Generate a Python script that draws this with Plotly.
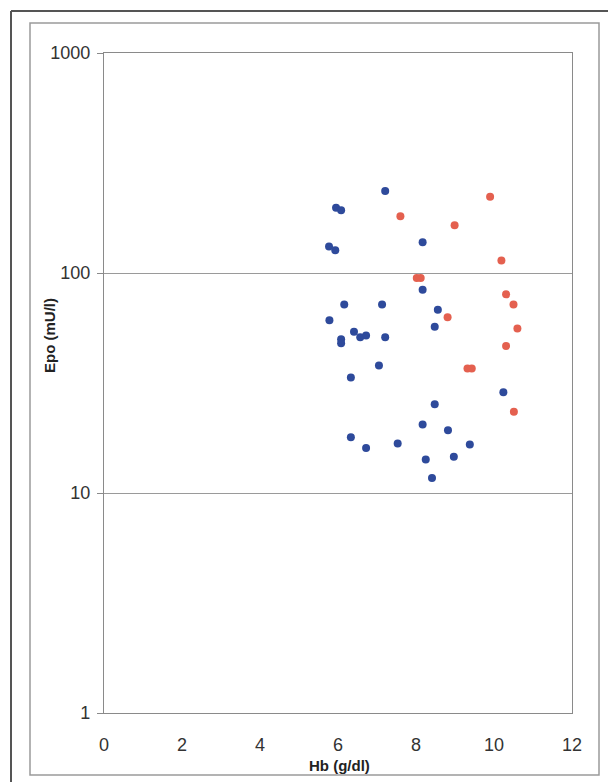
import plotly.graph_objects as go

# Data
blue_hb = [7.21, 5.95, 6.08, 5.77, 5.93, 8.17, 8.17, 6.16, 7.13, 8.56, 5.78, 8.48,
           6.41, 6.57, 6.72, 7.21, 6.08, 6.08, 7.05, 6.33, 10.24, 8.48, 8.17, 8.82,
           6.33, 6.72, 7.53, 9.38, 8.25, 8.97, 8.41]
blue_epo = [236, 198, 193, 132, 127, 138, 84, 72, 72, 68, 61, 57,
            54, 51, 52, 51, 50, 48, 38, 33.5, 28.7, 25.3, 20.5, 19.3,
            17.9, 16, 16.8, 16.6, 14.2, 14.6, 11.7]

red_hb = [7.60, 8.99, 9.90, 10.19, 8.02, 8.12, 10.31, 10.50, 8.81, 10.60, 10.31, 9.32, 9.43, 10.51]
red_epo = [181, 165, 222, 114, 95, 95, 80, 72, 63, 56, 46.6, 36.8, 36.8, 23.4]

y_ticks = [1, 10, 100, 1000]
y_labels = ["1", "10", "100", "1000"]
x_ticks = [0, 2, 4, 6, 8, 10, 12]

# the page body has an 8px margin; the figure is sized to fill the rest
OFF = 8
W, H = 616 - OFF, 782 - OFF
L, R, T, B = 104 - OFF, 44, 53 - OFF, 69
PW, PH = W - L - R, H - T - B


def px(p):  # page pixel -> paper x
    return (p - OFF - L) / PW


def py(p):  # page pixel -> paper y
    return (H - B - (p - OFF)) / PH


FONT = "Liberation Sans, Arial, sans-serif"

fig = go.Figure()
fig.add_trace(go.Scatter(x=blue_hb, y=blue_epo, mode="markers",
                         marker=dict(color="#2E4A9B", size=8, symbol="circle"),
                         showlegend=False))
fig.add_trace(go.Scatter(x=red_hb, y=red_epo, mode="markers",
                         marker=dict(color="#E4604F", size=8, symbol="circle"),
                         showlegend=False))

fig.update_layout(
    width=W, height=H,
    margin=dict(l=L, r=R, t=T, b=B),
    paper_bgcolor="white", plot_bgcolor="white",
    font=dict(family=FONT, color="#222"),
    xaxis=dict(range=[0, 12], tickvals=x_ticks, showgrid=False, zeroline=False,
               showline=True, linecolor="#8a8a8a", linewidth=1.2, mirror=True,
               ticks="outside", ticklen=15, tickcolor="rgba(0,0,0,0)",
               tickfont=dict(size=18, family=FONT, color="#333")),
    yaxis=dict(type="log", range=[0, 3], tickvals=y_ticks, ticktext=y_labels,
               showgrid=True, gridcolor="#9a9a9a", gridwidth=1, zeroline=False,
               showline=True, linecolor="#8a8a8a", linewidth=1.2, mirror=True,
               ticks="outside", ticklen=6, tickcolor="#8a8a8a",
               ticklabelstandoff=3,
               tickfont=dict(size=18, family=FONT, color="#333")),
    shapes=[
        # outer frame (top and left edges visible)
        dict(type="line", xref="paper", yref="paper", x0=px(11), x1=px(620), y0=py(11), y1=py(11),
             line=dict(color="#555", width=2)),
        dict(type="line", xref="paper", yref="paper", x0=px(11), x1=px(11), y0=py(11), y1=py(790),
             line=dict(color="#555", width=2)),
        # inner chart frame
        dict(type="rect", xref="paper", yref="paper", x0=px(30), x1=px(599), y0=py(775), y1=py(23),
             line=dict(color="#9a9a9a", width=1.5)),
    ],
    annotations=[
        dict(text="<b>Hb (g/dl)</b>", xref="paper", yref="paper", x=px(339), y=py(765),
             showarrow=False, font=dict(size=15, family=FONT, color="#222"),
             xanchor="center", yanchor="middle"),
        dict(text="<b>Epo (mU/l)</b>", xref="paper", yref="paper", x=px(49), y=py(336),
             showarrow=False, textangle=-90, font=dict(size=15, family=FONT, color="#222"),
             xanchor="center", yanchor="middle"),
    ],
)

fig.write_html("out.html")
